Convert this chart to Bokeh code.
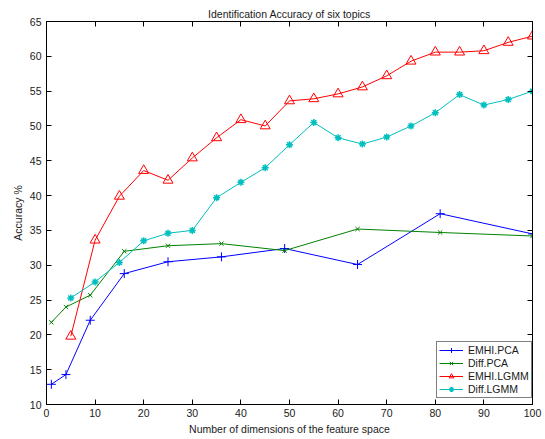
from bokeh.plotting import figure
from bokeh.models import Range1d, LinearAxis, FixedTicker, Legend, LegendItem
from bokeh.embed import file_html
from bokeh.resources import INLINE

# ---- data ----
pca_dims = [1, 4, 9, 16, 25, 36, 49, 64, 81, 100]
emhi_pca = [12.9, 14.3, 22.1, 28.8, 30.5, 31.2, 32.4, 30.1, 37.4, 34.5]
diff_pca = [21.8, 24.0, 25.7, 32.0, 32.8, 33.1, 32.1, 35.2, 34.7, 34.2]

lgmm_dims = [5, 10, 15, 20, 25, 30, 35, 40, 45, 50, 55, 60, 65, 70, 75, 80, 85, 90, 95, 100]
emhi_lgmm = [19.8, 33.6, 39.9, 43.6, 42.2, 45.4, 48.3, 50.9, 50.0, 53.6,
             53.9, 54.6, 55.6, 57.2, 59.3, 60.6, 60.6, 60.8, 62.0, 62.9]
diff_lgmm = [25.3, 27.6, 30.4, 33.5, 34.6, 35.0, 39.7, 41.9, 44.0, 47.3,
             50.5, 48.3, 47.4, 48.4, 50.0, 51.9, 54.5, 53.0, 53.8, 55.0]

x_ticks = [0, 10, 20, 30, 40, 50, 60, 70, 80, 90, 100]
y_ticks = [10, 15, 20, 25, 30, 35, 40, 45, 50, 55, 60, 65]

FONT = "Liberation Sans"
TXT = "#1a1a1a"

p = figure(width=544, height=438, output_backend="svg", toolbar_location=None,
           x_range=Range1d(0, 100), y_range=Range1d(10, 65),
           min_border_left=46, min_border_right=12, min_border_top=21, min_border_bottom=34)

p.title.text = "Identification Accuracy of six topics"
p.title.align = "center"
p.title.text_font = FONT
p.title.text_font_size = "10.5px"
p.title.text_font_style = "normal"
p.title.text_color = TXT
p.title.standoff = 4

p.xgrid.visible = False
p.ygrid.visible = False
p.outline_line_color = "black"
p.outline_line_width = 1
p.background_fill_color = "white"
p.border_fill_color = "white"

def style_axis(ax, ticks, labels=True):
    ax.ticker = FixedTicker(ticks=ticks)
    ax.major_tick_in = 5
    ax.major_tick_out = 0
    ax.minor_tick_in = 0
    ax.minor_tick_out = 0
    ax.axis_line_color = "black"
    ax.major_tick_line_color = "black"
    if labels:
        ax.major_label_text_font = FONT
        ax.major_label_text_font_size = "10.5px"
        ax.major_label_text_color = TXT
        ax.major_label_standoff = 5
        ax.axis_label_text_font = FONT
        ax.axis_label_text_font_size = "10.5px"
        ax.axis_label_text_font_style = "normal"
        ax.axis_label_text_color = TXT
        ax.axis_label_standoff = 3
    else:
        ax.major_label_overrides = {t: "" for t in ticks}
        ax.major_label_standoff = 0

style_axis(p.xaxis[0], x_ticks)
style_axis(p.yaxis[0], y_ticks)
p.xaxis[0].major_label_standoff = 4
p.xaxis[0].axis_label = "Number of dimensions of the feature space"
p.yaxis[0].axis_label = "Accuracy %"

top_ax = LinearAxis()
style_axis(top_ax, x_ticks, labels=False)
p.add_layout(top_ax, "above")
right_ax = LinearAxis()
style_axis(right_ax, y_ticks, labels=False)
p.add_layout(right_ax, "right")

BLUE = "#0000ff"
GREEN = "#008000"
RED = "#ff0000"
CYAN = "#00bfbf"

l1 = p.line(pca_dims, emhi_pca, line_color=BLUE, line_width=1)
m1 = p.scatter(pca_dims, emhi_pca, marker="cross", size=9, line_color=BLUE, line_width=1)
l2 = p.line(pca_dims, diff_pca, line_color=GREEN, line_width=1)
m2 = p.scatter(pca_dims, diff_pca, marker="x", size=6, line_color=GREEN, line_width=1)
l3 = p.line(lgmm_dims, emhi_lgmm, line_color=RED, line_width=1)
m3 = p.scatter(lgmm_dims, emhi_lgmm, marker="triangle", size=10, line_color=RED,
               fill_color=None, line_width=1)
l4 = p.line(lgmm_dims, diff_lgmm, line_color=CYAN, line_width=1)
m4 = p.scatter(lgmm_dims, diff_lgmm, marker="asterisk", size=7, line_color=CYAN, line_width=1.5)

legend = Legend(items=[
    LegendItem(label="EMHI.PCA", renderers=[l1, m1]),
    LegendItem(label="Diff.PCA", renderers=[l2, m2]),
    LegendItem(label="EMHI.LGMM", renderers=[l3, m3]),
    LegendItem(label="Diff.LGMM", renderers=[l4, m4]),
], location=(390, 6))
legend.label_text_font = FONT
legend.label_text_font_size = "10.5px"
legend.label_text_color = TXT
legend.label_height = 12
legend.glyph_height = 12
legend.glyph_width = 24
legend.spacing = 1
legend.padding = 2
legend.margin = 0
legend.label_standoff = 5
legend.border_line_color = "black"
legend.border_line_width = 1.5
legend.background_fill_color = "white"
legend.background_fill_alpha = 1
p.add_layout(legend, "center")

open("out.html", "w").write(file_html(p, INLINE))
